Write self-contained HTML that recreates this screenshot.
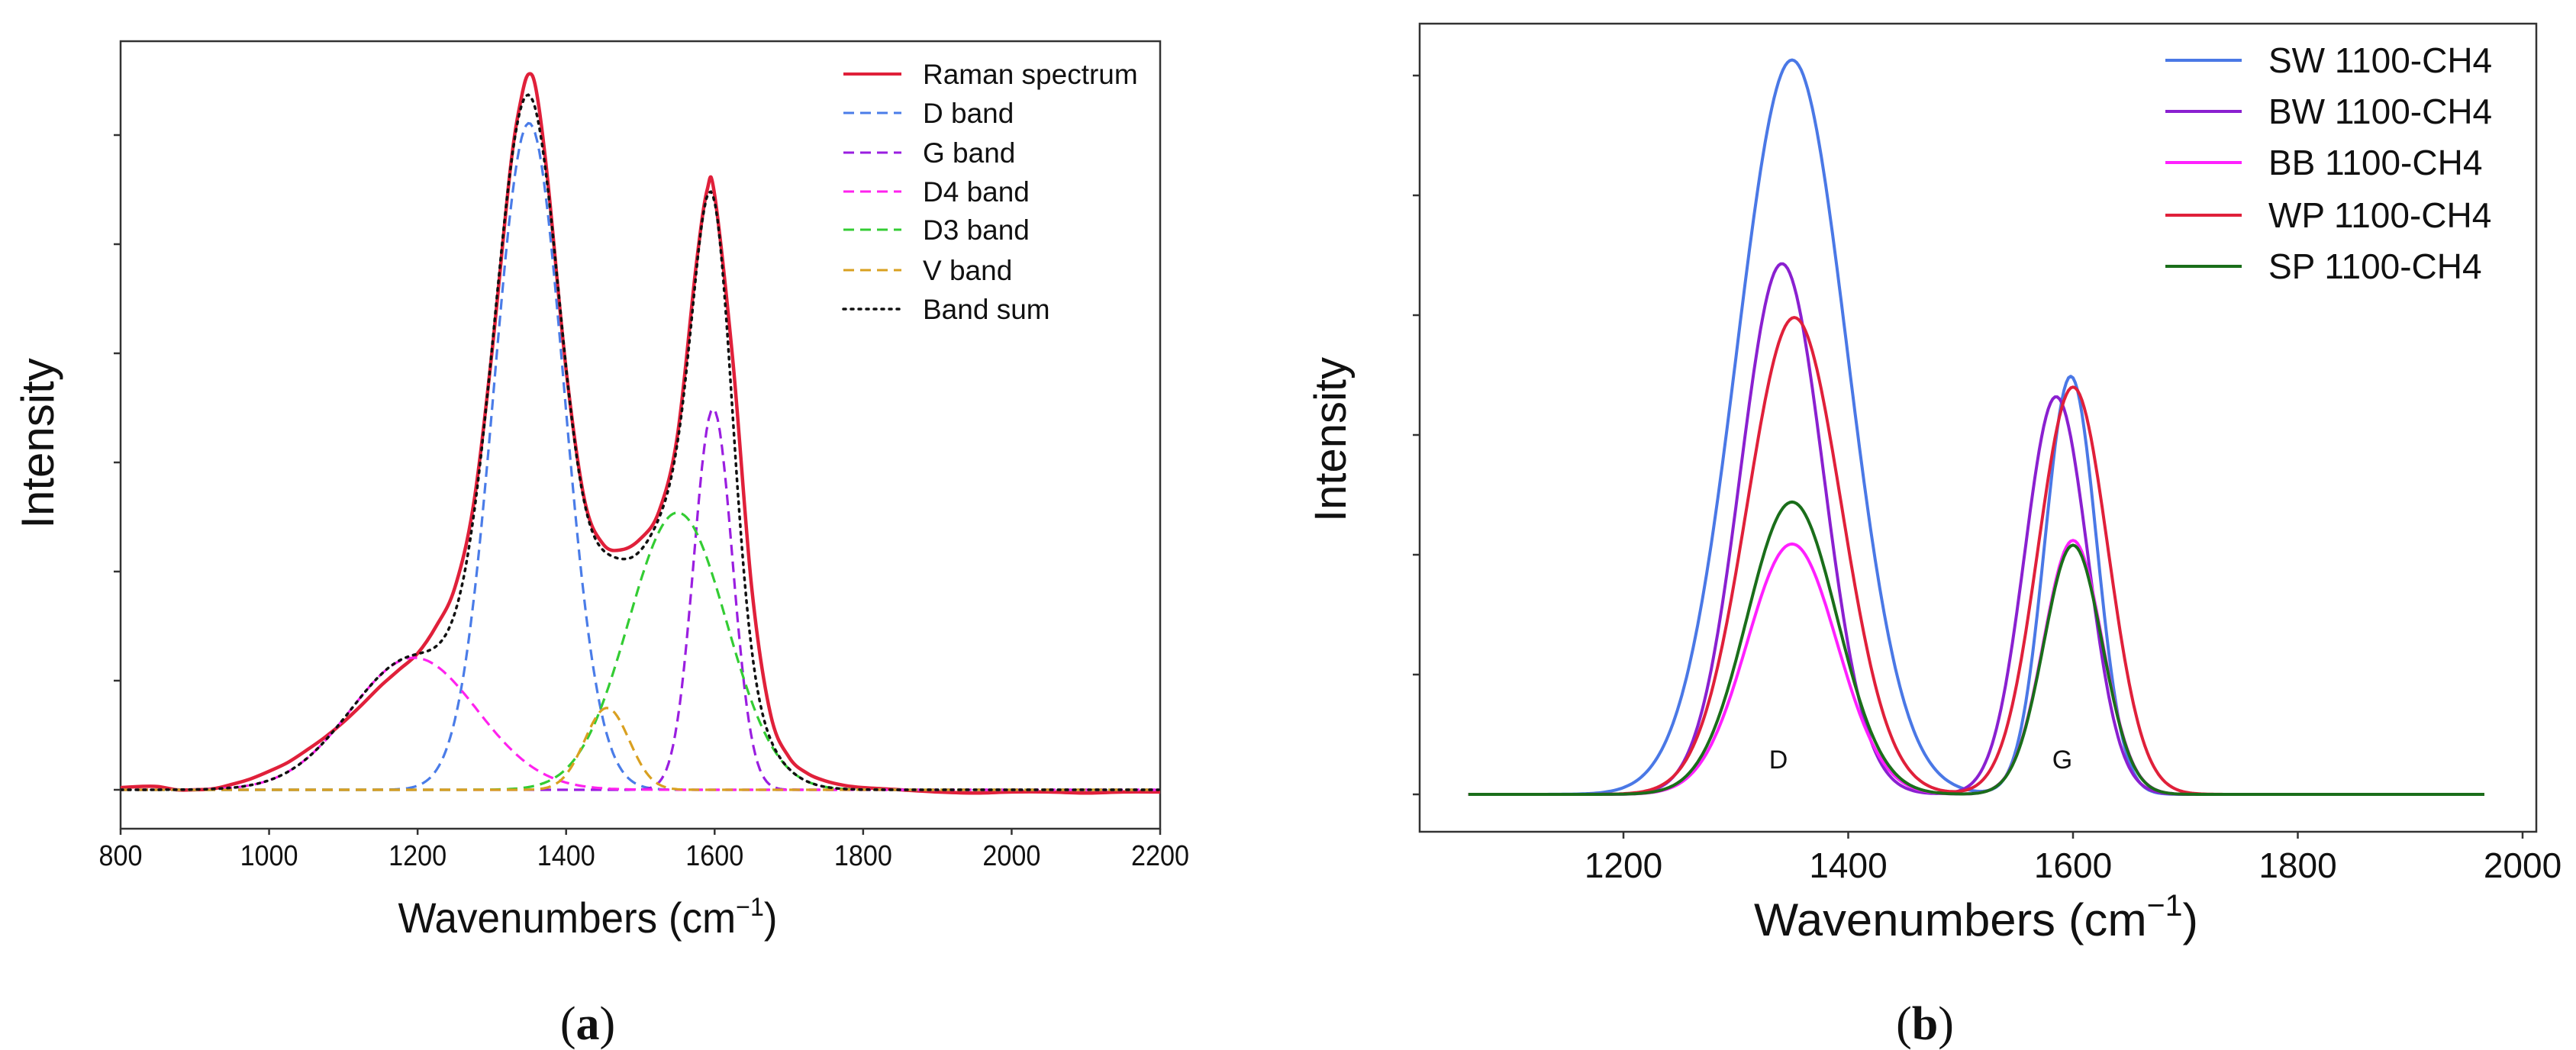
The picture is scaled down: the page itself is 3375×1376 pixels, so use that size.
<!DOCTYPE html>
<html><head><meta charset="utf-8"><style>
html,body{margin:0;padding:0;background:#fff;width:3375px;height:1376px;overflow:hidden}
svg{display:block}
text{font-family:"Liberation Sans",Arial,sans-serif;fill:#111}
</style></head><body>
<svg id="fig" width="3375" height="1376" viewBox="0 0 3375 1376" xmlns="http://www.w3.org/2000/svg">
<g id="pa"></g>
<g id="pb"></g>
</svg>
<script>
// ---------- Panel (a) data ----------
const aXTicks = [800,1000,1200,1400,1600,1800,2000,2200];
const aYTicks = [0,1,2,3,4,5,6];
const bandNames = ["D band","G band","D4 band","D3 band","V band"];
const bandCenters = [1350,1598,1195,1550,1455];
const bandHeights = [6.11,3.49,1.21,2.54,0.75];
const bandSigmas = [47,26,85,66,30];
const ramanX = [800,825,850,875,900,925,950,975,1000,1025,1050,1075,1100,1125,1150,1175,1200,1225,1250,1275,1300,1325,1340,1350,1360,1375,1400,1425,1450,1475,1500,1525,1550,1575,1590,1600,1625,1650,1675,1700,1725,1750,1775,1800,1850,1900,1950,2000,2050,2100,2150,2200];
const ramanY = [0.02,0.03,0.03,0.0,0.0,0.01,0.05,0.1,0.17,0.25,0.36,0.48,0.62,0.78,0.95,1.1,1.25,1.5,1.85,2.6,4.0,5.7,6.35,6.56,6.4,5.6,3.85,2.65,2.25,2.2,2.3,2.55,3.25,4.8,5.5,5.45,3.9,1.85,0.7,0.3,0.15,0.08,0.04,0.02,0.0,-0.02,-0.03,-0.02,-0.02,-0.03,-0.02,-0.02];
// ---------- Panel (b) data ----------
const bXTicks = [1200,1400,1600,1800,2000];
const bYTicks = [0,1,2,3,4,5,6];
const bSeries = ["SW 1100-CH4","BW 1100-CH4","BB 1100-CH4","WP 1100-CH4","SP 1100-CH4"];
const bDCenter = [1350,1341,1350,1352,1350];
const bDHeight = [6.13,4.43,2.09,3.98,2.44];
const bDSigma = [49,37,40,42,40];
const bGCenter = [1598,1585,1600,1600,1600];
const bGHeight = [3.49,3.32,2.12,3.40,2.08];
const bGSigma = [23,28,26,31,26];

const NS="http://www.w3.org/2000/svg";
function mk(parent,tag,attrs,txt){const e=document.createElementNS(NS,tag);for(const k in attrs)e.setAttribute(k,attrs[k]);if(txt!==undefined)e.textContent=txt;parent.appendChild(e);return e;}
function gauss(x,c,h,s){return h*Math.exp(-(x-c)*(x-c)/(2*s*s));}
function smoothPath(pts){let d='M'+pts[0][0].toFixed(1)+','+pts[0][1].toFixed(1);
for(let i=0;i<pts.length-1;i++){const p0=pts[Math.max(0,i-1)],p1=pts[i],p2=pts[i+1],p3=pts[Math.min(pts.length-1,i+2)];
const c1x=p1[0]+(p2[0]-p0[0])/6,c1y=p1[1]+(p2[1]-p0[1])/6,c2x=p2[0]-(p3[0]-p1[0])/6,c2y=p2[1]-(p3[1]-p1[1])/6;
d+='C'+c1x.toFixed(1)+','+c1y.toFixed(1)+' '+c2x.toFixed(1)+','+c2y.toFixed(1)+' '+p2[0].toFixed(1)+','+p2[1].toFixed(1);}
return d;}

// ---------- Panel (a) ----------
(function(){
const g=document.getElementById('pa');
const L=158,R=1520,T=54,B=1086,Y0=1035,YU=143;
const xs=v=>L+(v-800)/1400*(R-L);
const ys=v=>Y0-v*YU;
const frame=mk(g,'rect',{x:L,y:T,width:R-L,height:B-T,fill:'none',stroke:'#333','stroke-width':2.5});


aYTicks.forEach(t=>{const l=mk(g,'line',{x1:L-9,x2:L,y1:ys(t),y2:ys(t),stroke:'#333','stroke-width':2.5});

});
aXTicks.forEach(t=>{const l=mk(g,'line',{x1:xs(t),x2:xs(t),y1:B,y2:B+8,stroke:'#333','stroke-width':2.5});


const tx=mk(g,'text',{x:xs(t),y:1134,'text-anchor':'middle','font-size':38,'textLength':t>=1000?76:57,'lengthAdjust':'spacingAndGlyphs'},String(t));

});
const cols=['#4a7ce8','#9a1ee0','#ff22ee','#33cc33','#d9a020'];
const clip=mk(g,'clipPath',{id:'clipa'});mk(clip,'rect',{x:L,y:T,width:R-L,height:B-T});
const pg=mk(g,'g',{'clip-path':'url(#clipa)'});
const rpts=ramanX.map((x,i)=>[xs(x),ys(ramanY[i])]);
const rp=mk(pg,'path',{d:smoothPath(rpts),fill:'none',stroke:'#e0203a','stroke-width':4.5,'stroke-linejoin':'round'});


bandNames.forEach((n,i)=>{let p='';for(let x=800;x<=2200;x+=3){p+=(x===800?'M':'L')+xs(x).toFixed(1)+','+ys(gauss(x,bandCenters[i],bandHeights[i],bandSigmas[i])).toFixed(1);}
const e=mk(pg,'path',{d:p,fill:'none',stroke:cols[i],'stroke-width':3.2,'stroke-dasharray':'14,8'});

});
let s='';for(let x=800;x<=2200;x+=3){let v=0;for(let i=0;i<bandNames.length;i++)v+=gauss(x,bandCenters[i],bandHeights[i],bandSigmas[i]);s+=(x===800?'M':'L')+xs(x).toFixed(1)+','+ys(v).toFixed(1);}
const sp=mk(pg,'path',{d:s,fill:'none',stroke:'#111','stroke-width':3.5,'stroke-dasharray':'3,7','stroke-linecap':'round'});


const lg=mk(g,'g',{});


const names=['Raman spectrum'].concat(bandNames).concat(['Band sum']);
const lc=['#e0203a'].concat(cols).concat(['#111']);
const rows=[97,148,200,251,301,354,405];
names.forEach((n,i)=>{const y=rows[i];
const at={x1:1105,x2:1181,y1:y,y2:y,stroke:lc[i],'stroke-width':i===0?4:3};
if(i>0&&i<6)at['stroke-dasharray']='14,8';
if(i===6){at['stroke-dasharray']='3,7';at['stroke-linecap']='round';at['stroke-width']=3.5;}
const ln=mk(lg,'line',at);


const t=mk(lg,'text',{x:1209,y:y+13,'font-size':37},n);

});
const xt=mk(g,'text',{x:770,y:1222,'text-anchor':'middle','font-size':56,textLength:497,lengthAdjust:'spacingAndGlyphs'});
xt.innerHTML='Wavenumbers (cm<tspan font-size="34" dy="-22">−1</tspan><tspan dy="22">)</tspan>';


const yt=mk(g,'text',{x:0,y:0,'text-anchor':'middle','font-size':60,transform:'translate(70,581) rotate(-90)'},'Intensity');


const lab=mk(g,'text',{x:770,y:1362,'text-anchor':'middle','font-size':62,style:'font-family:"Liberation Serif",serif'});
lab.innerHTML='(<tspan font-weight="bold">a</tspan>)';


})();

// ---------- Panel (b) ----------
(function(){
const g=document.getElementById('pb');
const L=1860,R=3323,T=31,B=1090,Y0=1041,YU=157;
const xs=v=>2127+(v-1200)*1.4725;
const ys=v=>Y0-v*YU;
const frame=mk(g,'rect',{x:L,y:T,width:R-L,height:B-T,fill:'none',stroke:'#333','stroke-width':2.5});


bYTicks.forEach(t=>{const l=mk(g,'line',{x1:L-9,x2:L,y1:ys(t),y2:ys(t),stroke:'#333','stroke-width':2.5});

});
bXTicks.forEach(t=>{const l=mk(g,'line',{x1:xs(t),x2:xs(t),y1:B,y2:B+9,stroke:'#333','stroke-width':2.5});


const tx=mk(g,'text',{x:xs(t),y:1150,'text-anchor':'middle','font-size':46},String(t));

});
const cols=['#4a78e6','#8a20d0','#ff20ff','#e0203a','#1a6e1a'];
bSeries.forEach((n,i)=>{let p='';for(let x=1062;x<=1967;x+=2){const v=gauss(x,bDCenter[i],bDHeight[i],bDSigma[i])+gauss(x,bGCenter[i],bGHeight[i],bGSigma[i]);p+=(x===1062?'M':'L')+xs(x).toFixed(1)+','+ys(v).toFixed(1);}
const e=mk(g,'path',{d:p,fill:'none',stroke:cols[i],'stroke-width':4,'stroke-linejoin':'round'});

});
const dl=mk(g,'text',{x:2330,y:1007,'text-anchor':'middle','font-size':34},'D');


const gl=mk(g,'text',{x:2702,y:1007,'text-anchor':'middle','font-size':34},'G');


const lg=mk(g,'g',{});


const rows=[79,146,213,282,349];
bSeries.forEach((n,i)=>{const y=rows[i];
const ln=mk(lg,'line',{x1:2837,x2:2937,y1:y,y2:y,stroke:cols[i],'stroke-width':4});


const t=mk(lg,'text',{x:2972,y:y+16,'font-size':46},n);

});
const xt=mk(g,'text',{x:2589,y:1226,'text-anchor':'middle','font-size':60,textLength:582,lengthAdjust:'spacingAndGlyphs'});
xt.innerHTML='Wavenumbers (cm<tspan font-size="40" dy="-26">−1</tspan><tspan dy="26">)</tspan>';


const yt=mk(g,'text',{x:0,y:0,'text-anchor':'middle','font-size':58,transform:'translate(1763,576) rotate(-90)'},'Intensity');


const lab=mk(g,'text',{x:2522,y:1362,'text-anchor':'middle','font-size':62,style:'font-family:"Liberation Serif",serif'});
lab.innerHTML='(<tspan font-weight="bold">b</tspan>)';


})();
</script>
</body></html>
